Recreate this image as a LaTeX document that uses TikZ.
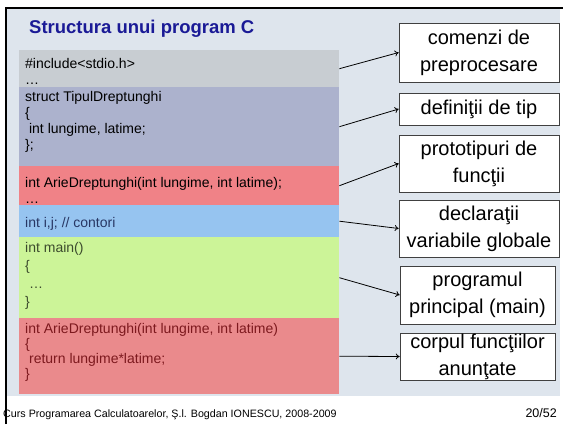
\documentclass[tikz,border=0pt]{standalone}
\usepackage{fontspec}
\setmainfont{Liberation Sans}
\usetikzlibrary{arrows.meta}

\definecolor{panel}{RGB}{222,229,237}
\definecolor{titlu}{RGB}{26,26,150}
\definecolor{gri}{RGB}{200,205,210}
\definecolor{lavanda}{RGB}{172,178,205}
\definecolor{rosu}{RGB}{240,130,135}
\definecolor{albastru}{RGB}{150,196,240}
\definecolor{verde}{RGB}{204,244,152}
\definecolor{rosud}{RGB}{234,138,140}
\definecolor{txtglob}{RGB}{40,55,100}
\definecolor{txtmain}{RGB}{60,75,45}
\definecolor{txtcorp}{RGB}{125,25,30}

\begin{document}
\begin{tikzpicture}[x=1pt,y=-1pt,
  blk/.style={inner sep=0pt,minimum width=320pt,anchor=north west},
  code/.style={inner sep=0pt,anchor=base west,align=left,font=\fontsize{14}{16}\selectfont},
  box/.style={draw=black!75,fill=white,line width=0.6pt,align=center,inner sep=0pt,
    minimum width=160pt,font=\fontsize{20}{27}\selectfont},
  arr/.style={-{To[length=4pt,width=6pt]},line width=0.8pt}]

\useasboundingbox (0,0) rectangle (563,424);
\fill[white] (0,0) rectangle (563,424);
\fill[panel] (6,8) rectangle (560,396);
\draw[line width=2.2pt,black] (6,424) -- (6,8) -- (563,8);

\node[anchor=base west,inner sep=0pt,text=titlu,font=\fontsize{18.5}{20}\selectfont\bfseries] (titlu) at (29,33) {Structura unui program C};

\node[blk,fill=gri,minimum height=37pt] (inc) at (19,50) {};
\node[blk,fill=lavanda,minimum height=79pt] (tip) at (19,87) {};
\node[blk,fill=rosu,minimum height=39pt] (proto) at (19,166) {};
\node[blk,fill=albastru,minimum height=32pt] (glob) at (19,205) {};
\node[blk,fill=verde,minimum height=81pt] (princ) at (19,237) {};
\node[blk,fill=rosud,minimum height=76pt] (corp) at (19,318) {};

% base = baseline of the last line
\node[code] (incT) at (25,84) {\#include<stdio.h>\\\dots};
\node[code] (tipT) at (25,149) {struct TipulDreptunghi\\\{\\\ int lungime, latime;\\\};};
\node[code] (protoT) at (25,203) {int ArieDreptunghi(int lungime, int latime);\\\dots};
\node[code,text=txtglob] (globT) at (25,227) {int i,j; // contori};
\node[code,text=txtmain,font=\fontsize{14}{18}\selectfont] (princT) at (25,306) {int main()\\\{\\\ \dots\\\}};
\node[code,text=txtcorp,font=\fontsize{14}{15}\selectfont] (corpT) at (25,378) {int ArieDreptunghi(int lungime, int latime)\\\{\\\ return lungime*latime;\\\}};

\node[box,minimum height=59pt] (cmd) at (479,52.5) {comenzi de\\preprocesare};
\node[box,minimum height=32pt] (defs) at (479,109) {defini\c{t}ii de tip};
\node[box,minimum height=57pt] (protos) at (479,163.5) {prototipuri de\\func\c{t}ii};
\node[box,minimum height=57pt] (decl) at (479,228.5) {declara\c{t}ii\\variabile globale};
\node[box,minimum height=58pt,minimum width=155pt] (mainb) at (477.5,295) {programul\\principal (main)};
\node[box,minimum height=47pt,minimum width=155pt] (body) at (477.5,356.5) {corpul func\c{t}iilor\\anun\c{t}ate};

\draw[arr] (inc.east) -- (cmd.west);
\draw[arr] (tip.east) -- (defs.west);
\draw[arr] (proto.east) -- (protos.west);
\draw[arr] (glob.east) -- (decl.west);
\draw[arr] (princ.east) -- (mainb.west);
\draw[arr] (corp.east) -- (body.west);

\node[anchor=base west,inner sep=0pt,font=\fontsize{10.7}{12}\selectfont] (subsol) at (3,417) {Curs Programarea Calculatoarelor, \c{S}.l. Bogdan IONESCU, 2008-2009};
\node[anchor=base east,inner sep=0pt,font=\fontsize{12.5}{13}\selectfont] (pag) at (557,417) {20/52};

\end{tikzpicture}
\end{document}
